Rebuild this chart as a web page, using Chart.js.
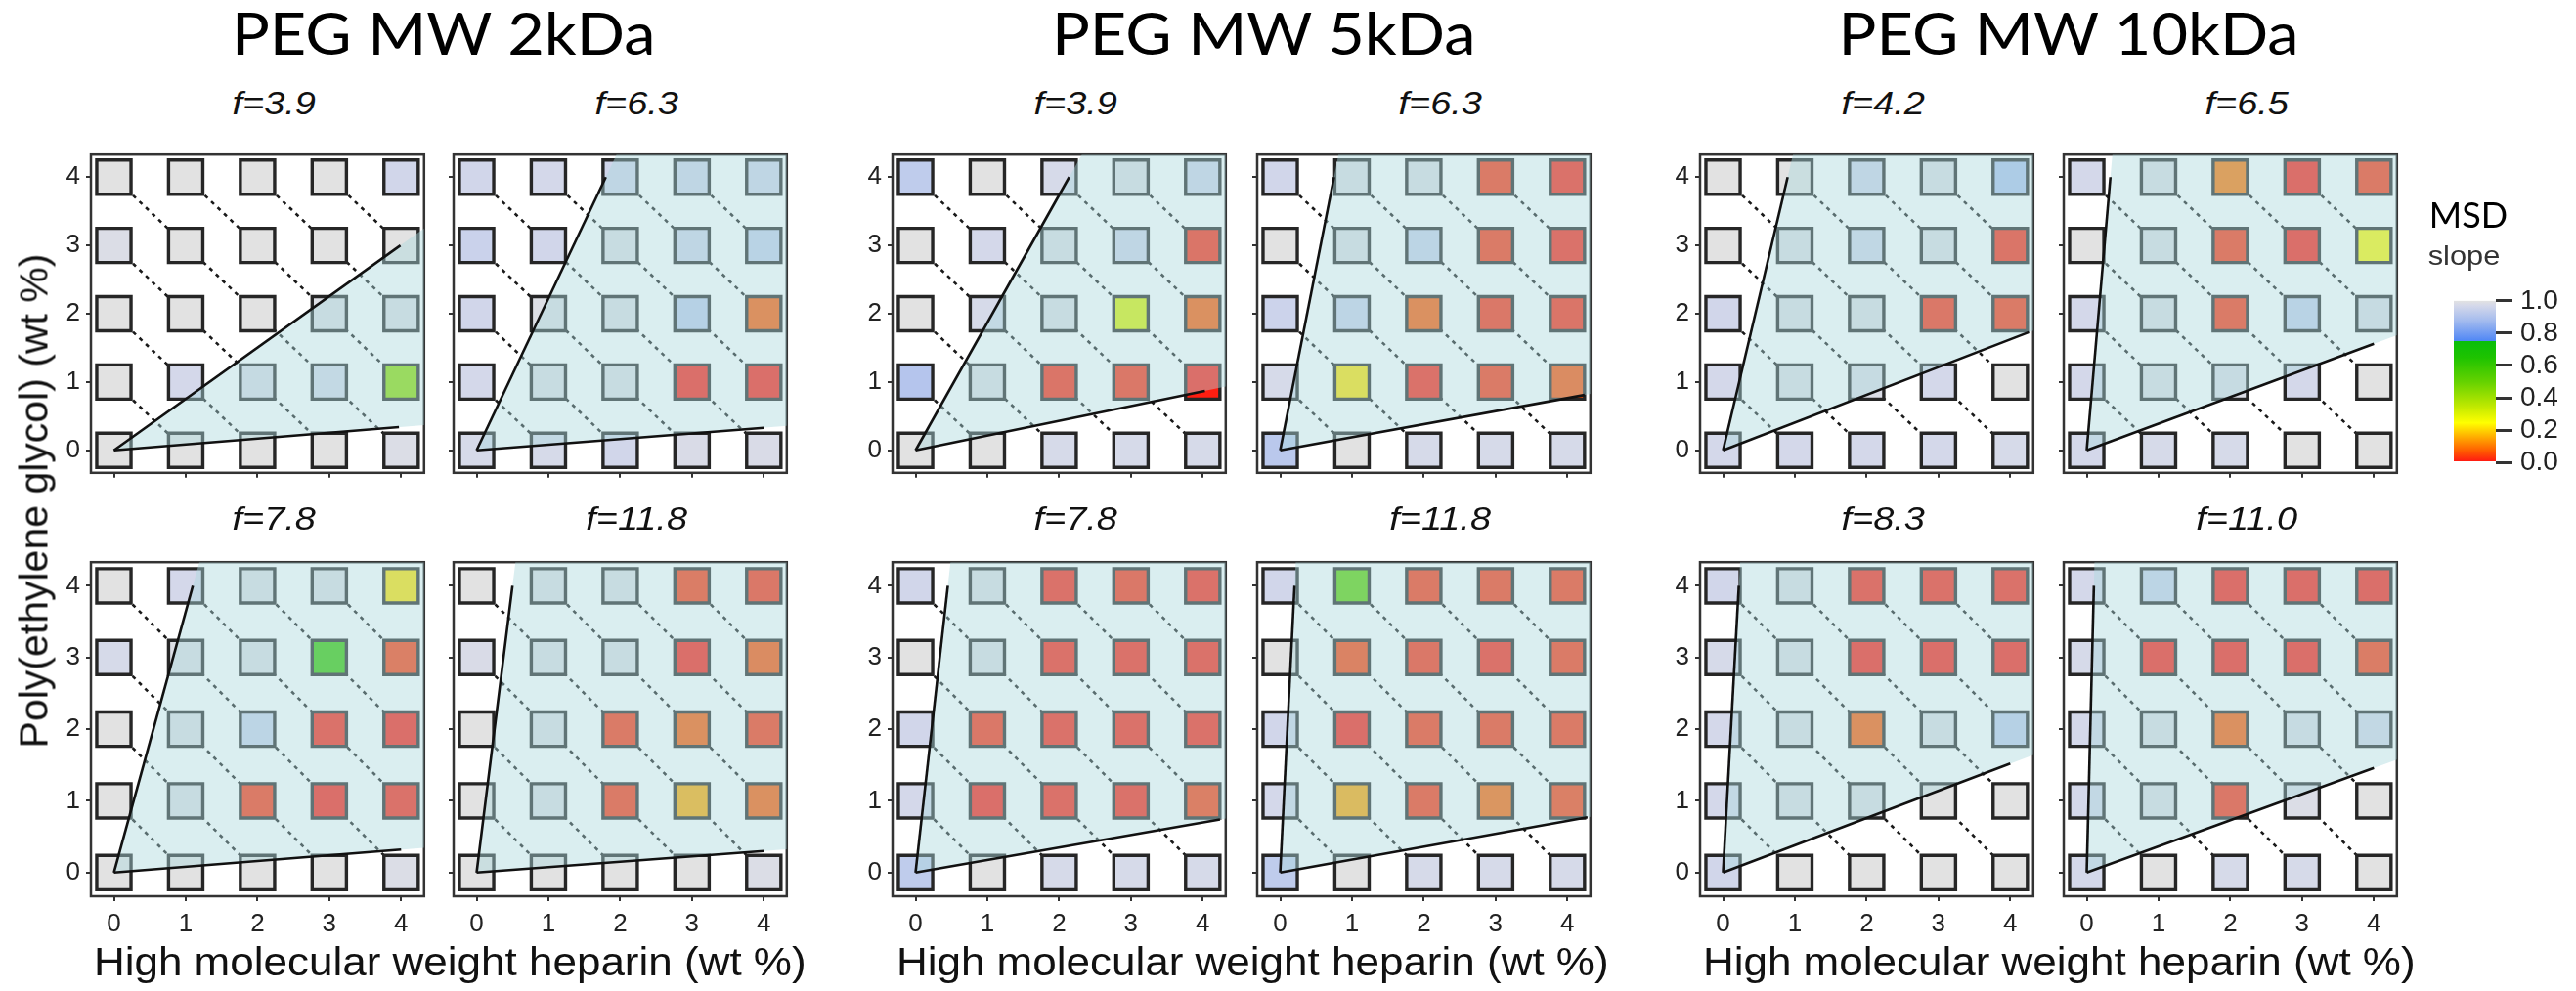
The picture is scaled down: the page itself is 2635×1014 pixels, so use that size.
<!DOCTYPE html>
<html>
<head>
<meta charset="utf-8">
<script src="https://cdn.jsdelivr.net/npm/chart.js@4.4.0/dist/chart.umd.min.js"></script>
<style>
  body { margin: 0; background: #fff; width: 2635px; height: 1014px; position: relative; overflow: hidden;
         font-family: 'Liberation Sans', Arial, sans-serif; color: #111; }
  canvas { position: absolute; }
  .lbl { position: absolute; white-space: nowrap; text-align: center; line-height: 1; }
  .lbl span { display: inline-block; }
  .group { font-family: Lato, sans-serif; font-size: 60px; color: #000; }
  .group span { transform: scaleX(1.08); }
  .ftag { font-size: 33px; font-style: italic; color: #111; }
  .ftag span { transform: scaleX(1.15); }
  .xtitle { font-size: 40px; }
  .xtitle span { transform: scaleX(1.1); }
  .ytitle { font-size: 41px; transform: rotate(-90deg); }
  .msd { font-family: Lato, sans-serif; font-size: 36px; color: #000; }
  .slope { font-size: 28px; color: #333; }
  .slope span { transform: scaleX(1.1); }
</style>
</head>
<body>
<script>
// axes: heparin (x) and PEG (y), wt %
const hepTicks = [0, 1, 2, 3, 4];
const pegTicks = [0, 1, 2, 3, 4];
const pegRows = [4, 3, 2, 1, 0];   // grid rows run from PEG 4 down to PEG 0

const groupTitles = ['PEG MW 2kDa', 'PEG MW 5kDa', 'PEG MW 10kDa'];
const f2k = [3.9, 6.3, 7.8, 11.8];
const f5k = [3.9, 6.3, 7.8, 11.8];
const f10k = [4.2, 6.5, 8.3, 11.0];

// MSD slope per cell, rows PEG 4 -> 0, columns heparin 0 -> 4
const s2k_a = [
  [1, 1, 1, 1, 0.965],
  [0.985, 1, 1, 1, 1],
  [1, 1, 1, 0.99, 0.99],
  [1, 0.97, 0.98, 0.975, 0.43],
  [1, 1, 1, 1, 0.985]
];
const s2k_b = [
  [0.965, 0.97, 0.96, 0.96, 0.96],
  [0.95, 0.965, 0.99, 0.96, 0.94],
  [0.965, 0.99, 0.99, 0.93, 0.07],
  [0.97, 0.99, 0.99, 0.01, 0.01],
  [0.975, 0.975, 0.965, 0.98, 0.98]
];
const s2k_c = [
  [1, 0.97, 0.99, 0.99, 0.215],
  [0.975, 0.99, 0.99, 0.6, 0.04],
  [1, 0.99, 0.95, 0.015, 0.01],
  [1, 0.99, 0.03, 0.01, 0.015],
  [1, 1, 1, 1, 0.985]
];
const s2k_d = [
  [1, 0.99, 0.99, 0.035, 0.025],
  [0.98, 0.99, 0.99, 0.01, 0.06],
  [1, 0.99, 0.03, 0.07, 0.03],
  [1, 0.99, 0.03, 0.155, 0.07],
  [1, 1, 1, 1, 0.985]
];
const s5k_a = [
  [0.93, 1, 0.975, 0.99, 0.96],
  [1, 0.97, 0.99, 0.96, 0.02],
  [1, 0.975, 0.99, 0.3, 0.07],
  [0.91, 0.99, 0.02, 0.025, 0.01],
  [1, 1, 0.975, 0.975, 0.975]
];
const s5k_b = [
  [0.965, 0.99, 0.99, 0.03, 0.015],
  [1, 0.99, 0.95, 0.03, 0.015],
  [0.955, 0.955, 0.07, 0.025, 0.02],
  [0.975, 0.215, 0.015, 0.03, 0.06],
  [0.92, 1, 0.975, 0.975, 0.975]
];
const s5k_c = [
  [0.965, 0.99, 0.015, 0.025, 0.015],
  [1, 0.99, 0.015, 0.015, 0.015],
  [0.965, 0.025, 0.015, 0.015, 0.015],
  [0.97, 0.01, 0.015, 0.015, 0.04],
  [0.93, 1, 0.975, 0.975, 0.975]
];
const s5k_d = [
  [0.965, 0.52, 0.03, 0.03, 0.03],
  [1, 0.045, 0.025, 0.015, 0.03],
  [0.965, 0.01, 0.03, 0.03, 0.03],
  [0.97, 0.15, 0.03, 0.08, 0.04],
  [0.93, 1, 0.975, 0.975, 0.975]
];
const s10k_a = [
  [1, 1, 0.96, 0.99, 0.9],
  [1, 0.99, 0.965, 0.99, 0.02],
  [0.965, 0.99, 0.99, 0.025, 0.03],
  [0.97, 0.99, 0.985, 0.97, 1],
  [0.97, 0.97, 0.97, 0.97, 0.975]
];
const s10k_b = [
  [0.97, 0.99, 0.1, 0.01, 0.03],
  [1, 0.99, 0.03, 0.01, 0.24],
  [0.97, 0.99, 0.03, 0.94, 0.985],
  [0.97, 0.99, 0.985, 0.97, 1],
  [0.97, 0.975, 0.975, 1, 1]
];
const s10k_c = [
  [0.965, 0.99, 0.015, 0.015, 0.015],
  [0.975, 0.99, 0.01, 0.01, 0.01],
  [0.97, 0.99, 0.07, 0.99, 0.93],
  [0.97, 0.99, 0.99, 1, 1],
  [0.965, 1, 1, 1, 1]
];
const s10k_d = [
  [0.97, 0.95, 0.01, 0.01, 0.01],
  [0.975, 0.01, 0.01, 0.01, 0.035],
  [0.97, 0.99, 0.07, 0.985, 0.97],
  [0.97, 0.99, 0.025, 0.985, 1],
  [0.97, 1, 0.975, 0.975, 1]
];

// end points of the two boundary lines from the origin, [heparin, PEG]
const upper2k = [[3.99, 3.0], [1.8, 4.0], [1.1, 4.0], [0.5, 4.0]];
const lower2k = [[3.97, 0.34], [4.0, 0.33], [4.0, 0.32], [4.0, 0.30]];
const upper5k = [[2.14, 4.0], [0.75, 4.0], [0.45, 4.0], [0.2, 4.0]];
const lower5k = [[4.03, 0.87], [4.24, 0.81], [4.24, 0.74], [4.28, 0.77]];
const upper10k = [[0.9, 4.0], [0.33, 4.0], [0.22, 4.0], [0.1, 4.0]];
const lower10k = [[4.26, 1.73], [4.0, 1.56], [4.0, 1.52], [4.0, 1.46]];

// colour scale for the MSD slope
const barTicks = [0, 0.2, 0.4, 0.6, 0.8, 1.0];
const slopeStops = [0.0, 0.07, 0.15, 0.245, 0.35, 0.5, 0.65, 0.749, 0.751, 0.88, 0.97, 1.0];
const slopeRGB = [[255, 20, 20], [255, 90, 0], [255, 165, 0], [255, 255, 0], [190, 232, 0],
  [100, 210, 0], [30, 195, 0], [10, 190, 10], [80, 135, 245], [165, 188, 238], [212, 216, 234], [226, 226, 226]];

const groups = [
  { title: groupTitles[0], f: f2k, grids: [s2k_a, s2k_b, s2k_c, s2k_d], up: upper2k, lo: lower2k },
  { title: groupTitles[1], f: f5k, grids: [s5k_a, s5k_b, s5k_c, s5k_d], up: upper5k, lo: lower5k },
  { title: groupTitles[2], f: f10k, grids: [s10k_a, s10k_b, s10k_c, s10k_d], up: upper10k, lo: lower10k }
];

// page layout
const frameLeft = [93, 464, 913, 1286, 1739, 2111];
const rowTop = [136, 553];
const FRAME_W = 363, FRAME_H = 364;
const PAD_L = 75, PAD_T = 6, PAD_R = 6;
const X_MIN = -0.32, X_MAX = 4.32, Y_MIN = -0.33, Y_MAX = 4.33;
const titleCenter = [454, 1293, 2116];
const OVERLAY = 'rgba(171, 216, 221, 0.44)';

function slopeColor(v) {
  for (let i = 1; i < slopeStops.length; i++) {
    if (v <= slopeStops[i]) {
      const t = (v - slopeStops[i - 1]) / (slopeStops[i] - slopeStops[i - 1]);
      const a = slopeRGB[i - 1], b = slopeRGB[i];
      return 'rgb(' + a.map((c, k) => Math.round(c + (b[k] - c) * t)).join(',') + ')';
    }
  }
  return 'rgb(' + slopeRGB[slopeRGB.length - 1].join(',') + ')';
}

// shaded region between the two lines, carried out to the frame
function wedgeShape(up, lo) {
  const sU = up[1] / up[0], sL = lo[1] / lo[0];
  const pts = [{ x: 0, y: 0 }, { x: X_MAX, y: sL * X_MAX }];
  if (sU * X_MAX <= Y_MAX) {
    pts.push({ x: X_MAX, y: sU * X_MAX });
  } else {
    pts.push({ x: X_MAX, y: Y_MAX }, { x: Y_MAX / sU, y: Y_MAX });
  }
  pts.push({ x: 0, y: 0 });
  return pts;
}

// dotted lines of constant heparin + PEG
const hepMax = hepTicks[hepTicks.length - 1];
const diagonals = [1, 2, 3, 4, 5, 6, 7].map(c => [
  { x: Math.max(0, c - hepMax), y: Math.min(hepMax, c) },
  { x: Math.min(hepMax, c), y: Math.max(0, c - hepMax) }
]);

const frameBox = {
  id: 'frameBox',
  beforeDatasetsDraw(chart) {
    const { ctx, chartArea: a } = chart;
    ctx.save();
    ctx.strokeStyle = '#333';
    ctx.lineWidth = 2.5;
    ctx.strokeRect(a.left, a.top, a.right - a.left, a.bottom - a.top);
    ctx.restore();
  }
};

function addText(txt, cx, top, cls) {
  const d = document.createElement('div');
  d.className = 'lbl ' + cls;
  d.style.left = (cx - 400) + 'px';
  d.style.width = '800px';
  d.style.top = top + 'px';
  const s = document.createElement('span');
  s.textContent = txt;
  d.appendChild(s);
  document.body.appendChild(d);
  return d;
}

function drawPanel(g, k) {
  const grp = groups[g];
  const col = 2 * g + (k % 2), row = Math.floor(k / 2);
  const showX = row === 1, showY = k % 2 === 0;
  const padB = showX ? 70 : 12;

  const cv = document.createElement('canvas');
  cv.width = PAD_L + FRAME_W + PAD_R;
  cv.height = PAD_T + FRAME_H + padB;
  cv.style.left = (frameLeft[col] - PAD_L) + 'px';
  cv.style.top = (rowTop[row] - PAD_T) + 'px';
  document.body.appendChild(cv);

  const grid = grp.grids[k];
  const cells = [], colors = [];
  pegRows.forEach((p, r) => hepTicks.forEach((h, c) => {
    cells.push({ x: h, y: p });
    colors.push(slopeColor(grid[r][c]));
  }));

  const datasets = [];
  [grp.up[k], grp.lo[k]].forEach(end => datasets.push({
    type: 'line', data: [{ x: 0, y: 0 }, { x: end[0], y: end[1] }],
    borderColor: '#111', borderWidth: 2.6, pointRadius: 0, fill: false, order: 0
  }));
  datasets.push({
    type: 'line', data: wedgeShape(grp.up[k], grp.lo[k]),
    borderWidth: 0, borderColor: 'rgba(0,0,0,0)', backgroundColor: OVERLAY,
    fill: 'shape', pointRadius: 0, order: 1
  });
  datasets.push({
    type: 'scatter', data: cells, pointStyle: 'rect', pointRadius: 24.8,
    pointBackgroundColor: colors, pointBorderColor: '#262626', pointBorderWidth: 3.4, order: 2
  });
  diagonals.forEach(seg => datasets.push({
    type: 'line', data: seg, borderColor: '#1a1a1a', borderWidth: 2.6, borderDash: [4, 5],
    pointRadius: 0, fill: false, order: 3
  }));

  const tickFont = { family: "'Liberation Sans', Arial, sans-serif", size: 26 };
  new Chart(cv, {
    type: 'scatter',
    data: { datasets },
    options: {
      responsive: false, animation: false, events: [],
      layout: { padding: { left: 0, top: PAD_T, right: PAD_R, bottom: 0 } },
      plugins: { legend: { display: false }, tooltip: { enabled: false } },
      scales: {
        x: {
          type: 'linear', min: X_MIN, max: X_MAX,
          afterBuildTicks: s => { s.ticks = hepTicks.map(v => ({ value: v })); },
          afterFit: s => { s.height = padB; },
          grid: { drawOnChartArea: false, drawTicks: true, tickLength: 5, color: '#333', lineWidth: 2 },
          border: { display: false },
          ticks: { display: showX, font: tickFont, color: '#222', padding: 8, maxRotation: 0, autoSkip: false }
        },
        y: {
          type: 'linear', min: Y_MIN, max: Y_MAX,
          afterBuildTicks: s => { s.ticks = pegTicks.map(v => ({ value: v })); },
          afterFit: s => { s.width = PAD_L; },
          grid: { drawOnChartArea: false, drawTicks: true, tickLength: 5, color: '#333', lineWidth: 2 },
          border: { display: false },
          ticks: { display: showY, font: tickFont, color: '#222', padding: 6, autoSkip: false }
        }
      }
    },
    plugins: [frameBox]
  });

  const fv = grp.f[k];
  addText('f=' + fv.toFixed(1), frameLeft[col] + FRAME_W / 2 + 6, row === 0 ? 89 : 514, 'ftag');
}

groups.forEach((grp, g) => {
  addText(grp.title, titleCenter[g], 3, 'group');
  for (let k = 0; k < 4; k++) drawPanel(g, k);
  const cx = (frameLeft[2 * g] + frameLeft[2 * g + 1] + FRAME_W) / 2;
  addText('High molecular weight heparin (wt %)', cx, 964, 'xtitle');
});

addText('Poly(ethylene glycol) (wt %)', 35, 492, 'ytitle');

// colour bar
addText('MSD', 2525, 201, 'msd');
addText('slope', 2520, 248, 'slope');
const cb = document.createElement('canvas');
cb.width = 125; cb.height = 215;
cb.style.left = '2510px'; cb.style.top = '283px';
document.body.appendChild(cb);
new Chart(cb, {
  type: 'bar',
  data: {
    labels: ['slope'],
    datasets: [{
      data: [[0, 1]], borderWidth: 0, barPercentage: 1, categoryPercentage: 1,
      backgroundColor: c => {
        const ch = c.chart, y = ch.scales.y;
        if (!ch.chartArea || !y) return 'rgba(0,0,0,0)';
        const gr = ch.ctx.createLinearGradient(0, y.getPixelForValue(0), 0, y.getPixelForValue(1));
        slopeStops.forEach((s, i) => gr.addColorStop(s, 'rgb(' + slopeRGB[i].join(',') + ')'));
        return gr;
      }
    }]
  },
  options: {
    responsive: false, animation: false, events: [],
    layout: { padding: { left: 0, top: 10, right: 0, bottom: 12 } },
    plugins: { legend: { display: false }, tooltip: { enabled: false } },
    scales: {
      x: { display: false },
      y: {
        position: 'right', min: 0, max: 1,
        afterBuildTicks: s => { s.ticks = barTicks.map(v => ({ value: v })); },
        afterFit: s => { s.width = 82; },
        grid: { drawOnChartArea: false, tickLength: 17, color: '#333', lineWidth: 3 },
        border: { display: false },
        ticks: { padding: 8, color: '#222', autoSkip: false,
                 font: { family: "'Liberation Sans', Arial, sans-serif", size: 28 },
                 callback: v => Number(v).toFixed(1) }
      }
    }
  }
});
</script>
</body>
</html>
